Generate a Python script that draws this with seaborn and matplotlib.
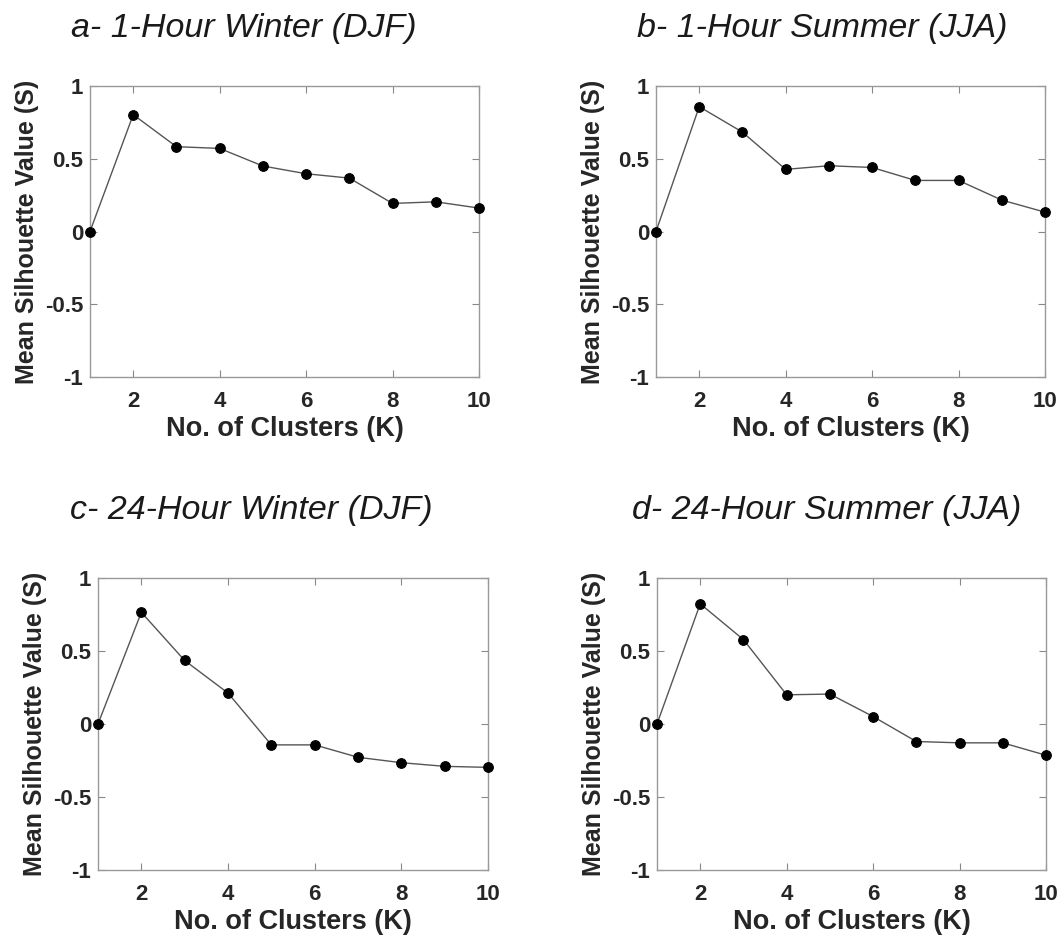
import numpy as np
import pandas as pd
import matplotlib
matplotlib.use("Agg")
import matplotlib.pyplot as plt
import seaborn as sns

clusters = [1, 2, 3, 4, 5, 6, 7, 8, 9, 10]
winter_1h = [0.0, 0.803, 0.583, 0.571, 0.450, 0.397, 0.367, 0.193, 0.204, 0.161]
summer_1h = [0.0, 0.858, 0.683, 0.427, 0.452, 0.440, 0.351, 0.351, 0.216, 0.133]
winter_24h = [0.0, 0.765, 0.435, 0.212, -0.143, -0.143, -0.228, -0.265, -0.290, -0.297]
summer_24h = [0.0, 0.823, 0.578, 0.200, 0.205, 0.051, -0.120, -0.129, -0.129, -0.214]

titles = ["a- 1-Hour Winter (DJF)", "b- 1-Hour Summer (JJA)",
          "c- 24-Hour Winter (DJF)", "d- 24-Hour Summer (JJA)"]
xlabel = "No. of Clusters (K)"
ylabel = "Mean Silhouette Value (S)"
xticks = [2, 4, 6, 8, 10]
yticks = [-1, -0.5, 0, 0.5, 1]
ytick_labels = ["-1", "-0.5", "0", "0.5", "1"]

sns.set_theme(style="white")
plt.rcParams['font.family'] = ['Liberation Sans', 'DejaVu Sans']

W, H = 1060, 941
fig = plt.figure(figsize=(W / 100, H / 100), dpi=100)

# axes boxes in pixels: left, top, right, bottom
boxes = [(90, 86, 479, 377), (656, 86, 1045, 377),
         (98, 578, 488, 870), (657, 578, 1046, 870)]
title_pos = [(71, 28), (637, 28), (70, 510), (632, 510)]
series = [winter_1h, summer_1h, winter_24h, summer_24h]

text_col = "#262626"
for i, (box, vals) in enumerate(zip(boxes, series)):
    l, t, r, b = box
    ax = fig.add_axes([l / W, 1 - b / H, (r - l) / W, (b - t) / H])
    df = pd.DataFrame({"K": clusters, "S": vals})
    sns.lineplot(data=df, x="K", y="S", ax=ax, color="#555555", linewidth=1.0,
                 marker="o", markersize=7, markerfacecolor="black",
                 markeredgecolor="black", clip_on=False, zorder=3)
    ax.set_xlim(1, 10)
    ax.set_ylim(-1, 1)
    ax.set_xticks(xticks)
    ax.set_xticklabels([str(v) for v in xticks])
    ax.set_yticks(yticks)
    ax.set_yticklabels(ytick_labels)
    ax.tick_params(direction="in", length=5, width=0.8, color="#888888",
                   top=True, right=True, bottom=True, left=True,
                   labelsize=16, labelcolor=text_col)
    ax.tick_params(axis="x", pad=10)
    ax.tick_params(axis="y", pad=5)
    for lab in ax.get_xticklabels() + ax.get_yticklabels():
        lab.set_fontweight("bold")
    for sp in ax.spines.values():
        sp.set_color("#999999")
        sp.set_linewidth(1.0)
    ax.set_xlabel(xlabel, fontsize=19.5, fontweight="bold", color=text_col, labelpad=3)
    ax.set_ylabel(ylabel, fontsize=18, fontweight="bold", color=text_col, labelpad=4)
    tx, ty = title_pos[i]
    fig.text(tx / W, 1 - ty / H, titles[i], fontsize=24.5, style="italic",
             color="#1a1a1a", ha="left", va="center")

fig.savefig("out.png", dpi=100, facecolor="white")
